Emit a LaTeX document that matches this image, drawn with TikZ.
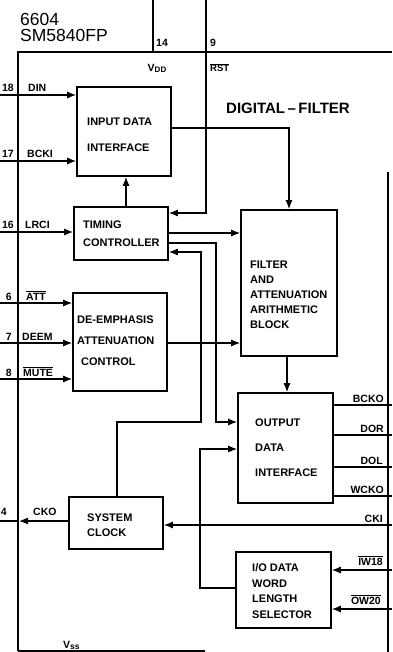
\documentclass[tikz,border=0pt]{standalone}
\usepackage{fontspec}
\setmainfont{Liberation Sans}
\usetikzlibrary{arrows.meta}
\newcommand{\pinbar}[1]{$\overline{\mbox{#1}}$}
\begin{document}
\begin{tikzpicture}[x=1pt,y=-1pt,
  box/.style={draw,line width=1.6pt,inner sep=0pt},
  boxtext/.style={anchor=west,inner sep=0pt,align=left},
  wire/.style={line width=1.2pt},
  arr/.style={line width=1.2pt,-{Latex[length=9pt,width=7pt]}},
  chip/.style={line width=2.8pt},
  pin/.style={font=\fontsize{10.5}{12}\selectfont\bfseries,inner sep=0pt},
  title/.style={font=\fontsize{17.5}{18}\selectfont,inner sep=0pt,anchor=base west}]
\useasboundingbox (0,0) rectangle (392,652);
% chip outline
\draw[chip] (18,651) -- (18,52) -- (392,52);
\draw[chip] (388,172) -- (388,652);
\draw[line width=1.6pt] (18,651) -- (205,651);
% title
\node[title] (t1) at (20,26) {6604};
\node[title] (t2) at (20,42) {SM5840FP};
\node[font=\fontsize{15}{16}\selectfont\bfseries,inner sep=0pt] (dig) at (288,108) {DIGITAL\,--\,FILTER};
% supply pins
\coordinate (p14) at (153,0);
\coordinate (p9) at (206,0);
\draw[wire] (p14) -- (153,52);
\node[pin,anchor=base west] (n14) at (156,47) {14};
\node[pin,anchor=base west] (n9) at (210,47) {9};
\node[pin,anchor=base] (vdd) at (157,72) {V\raisebox{-0.5pt}{\fontsize{8}{8}\selectfont DD}};
\node[pin,anchor=base west] (rst) at (210,72) {\fontsize{9.5}{10}\selectfont\pinbar{RST}};
\node[pin,anchor=base west] (vss) at (63,648) {V\raisebox{-1pt}{\fontsize{8.5}{8}\selectfont ss}};
% boxes
\node[box,minimum width=94pt,minimum height=89pt] (in) at (124,131.5) {};
\node[box,minimum width=94pt,minimum height=53pt] (tc) at (121,233.5) {};
\node[box,minimum width=94pt,minimum height=98pt] (de) at (120,342) {};
\node[box,minimum width=96pt,minimum height=146pt] (filt) at (289,283) {};
\node[box,minimum width=95pt,minimum height=110pt] (odi) at (285.5,448) {};
\node[box,minimum width=94pt,minimum height=52pt] (sc) at (116,523) {};
\node[box,minimum width=95pt,minimum height=76pt] (io) at (283.5,590) {};
% box texts
\node[boxtext,font=\fontsize{11}{26}\selectfont\bfseries] (tin) at (87,135) {INPUT DATA\\INTERFACE};
\node[boxtext,font=\fontsize{11}{18}\selectfont\bfseries] (ttc) at (83,234) {TIMING\\CONTROLLER};
\node[boxtext,font=\fontsize{11}{21}\selectfont\bfseries] (tde) at (77,341) {DE-EMPHASIS\\ATTENUATION\\\hspace*{4pt}CONTROL};
\node[boxtext,font=\fontsize{11}{15}\selectfont\bfseries] (tfilt) at (250,295) {FILTER\\AND\\ATTENUATION\\ARITHMETIC\\BLOCK};
\node[boxtext,font=\fontsize{11}{25}\selectfont\bfseries] (todi) at (255,448) {OUTPUT\\DATA\\INTERFACE};
\node[boxtext,font=\fontsize{11}{15}\selectfont\bfseries] (tsc) at (87,525) {SYSTEM\\CLOCK};
\node[boxtext,font=\fontsize{11}{15.5}\selectfont\bfseries] (tio) at (252,591) {I/O DATA\\WORD\\LENGTH\\SELECTOR};
% left input pins
\coordinate (pDIN) at (0,95);
\coordinate (pBCKI) at (0,161);
\coordinate (pLRCI) at (0,232);
\coordinate (pATT) at (0,303);
\coordinate (pDEEM) at (0,343);
\coordinate (pMUTE) at (0,379);
\coordinate (pCKO) at (0,521);
\coordinate (bCKO) at (19,521);
\draw[arr] (pDIN) -- (pDIN -| in.west);
\draw[arr] (pBCKI) -- (pBCKI -| in.west);
\draw[arr] (pLRCI) -- (pLRCI -| tc.west);
\draw[arr] (pATT) -- (pATT -| de.west);
\draw[arr] (pDEEM) -- (pDEEM -| de.west);
\draw[arr] (pMUTE) -- (pMUTE -| de.west);
\draw[arr] (sc.west |- pCKO) -- (bCKO);
\draw[wire] (bCKO) -- (pCKO);
\node[pin,anchor=base east] (n18) at (14,92) {18};
\node[pin,anchor=base west] (lDIN) at (28,92) {DIN};
\node[pin,anchor=base east] (n17) at (14,158) {17};
\node[pin,anchor=base west] (lBCKI) at (27,158) {BCKI};
\node[pin,anchor=base east] (n16) at (14,229) {16};
\node[pin,anchor=base west] (lLRCI) at (25,229) {LRCI};
\node[pin,anchor=base east] (n6) at (12,300) {6};
\node[pin,anchor=base west] (lATT) at (26,300) {\pinbar{ATT}};
\node[pin,anchor=base east] (n7) at (12,340) {7};
\node[pin,anchor=base west] (lDEEM) at (22,340) {DEEM};
\node[pin,anchor=base east] (n8) at (12,376) {8};
\node[pin,anchor=base west] (lMUTE) at (23,376) {\pinbar{MUTE}};
\node[pin,anchor=base east] (n4) at (7,515) {4};
\node[pin,anchor=base west] (lCKO) at (33,515) {CKO};
% internal connections
\draw[arr] (p9) |- (tc.east |- 0,213);
\draw[arr] (in.east |- 0,128) -| (filt.north);
\draw[arr] (tc.north -| 126,0) -- (in.south -| 126,0);
\draw[arr] (tc.east |- 0,233) -- (filt.west |- 0,233);
\draw[arr] (tc.east |- 0,243) -- (216,243) -- (216,422) -- (odi.west |- 0,422);
\draw[arr] (sc.north -| 117,0) -- (117,422) -- (201,422) -- (201,252) -- (tc.east |- 0,252);
\draw[arr] (de.east |- 0,343) -- (filt.west |- 0,343);
\draw[arr] (filt.south -| 287,0) -- (odi.north -| 287,0);
\draw[arr] (io.west |- 0,588) -- (200,588) -- (200,449) -- (odi.west |- 0,449);
% right pins
\coordinate (pBCKO) at (392,405);
\coordinate (pDOR) at (392,435);
\coordinate (pDOL) at (392,467);
\coordinate (pWCKO) at (392,496);
\coordinate (pCKI) at (392,525);
\coordinate (pIW) at (392,570);
\coordinate (pOW) at (392,609);
\draw[wire] (odi.east |- pBCKO) -- (pBCKO);
\draw[wire] (odi.east |- pDOR) -- (pDOR);
\draw[wire] (odi.east |- pDOL) -- (pDOL);
\draw[wire] (odi.east |- pWCKO) -- (pWCKO);
\draw[arr] (pCKI) -- (sc.east |- pCKI);
\draw[arr] (pIW) -- (io.east |- pIW);
\draw[arr] (pOW) -- (io.east |- pOW);
\node[pin,anchor=base east] (lBCKO) at (384,402) {BCKO};
\node[pin,anchor=base east] (lDOR) at (384,432) {DOR};
\node[pin,anchor=base east] (lDOL) at (383,464) {DOL};
\node[pin,anchor=base east] (lWCKO) at (384,493) {WCKO};
\node[pin,anchor=base east] (lCKI) at (383,522) {CKI};
\node[pin,anchor=base east] (lIW) at (383,565) {\pinbar{IW18}};
\node[pin,anchor=base east] (lOW) at (381,604) {\pinbar{OW20}};
\end{tikzpicture}
\end{document}
